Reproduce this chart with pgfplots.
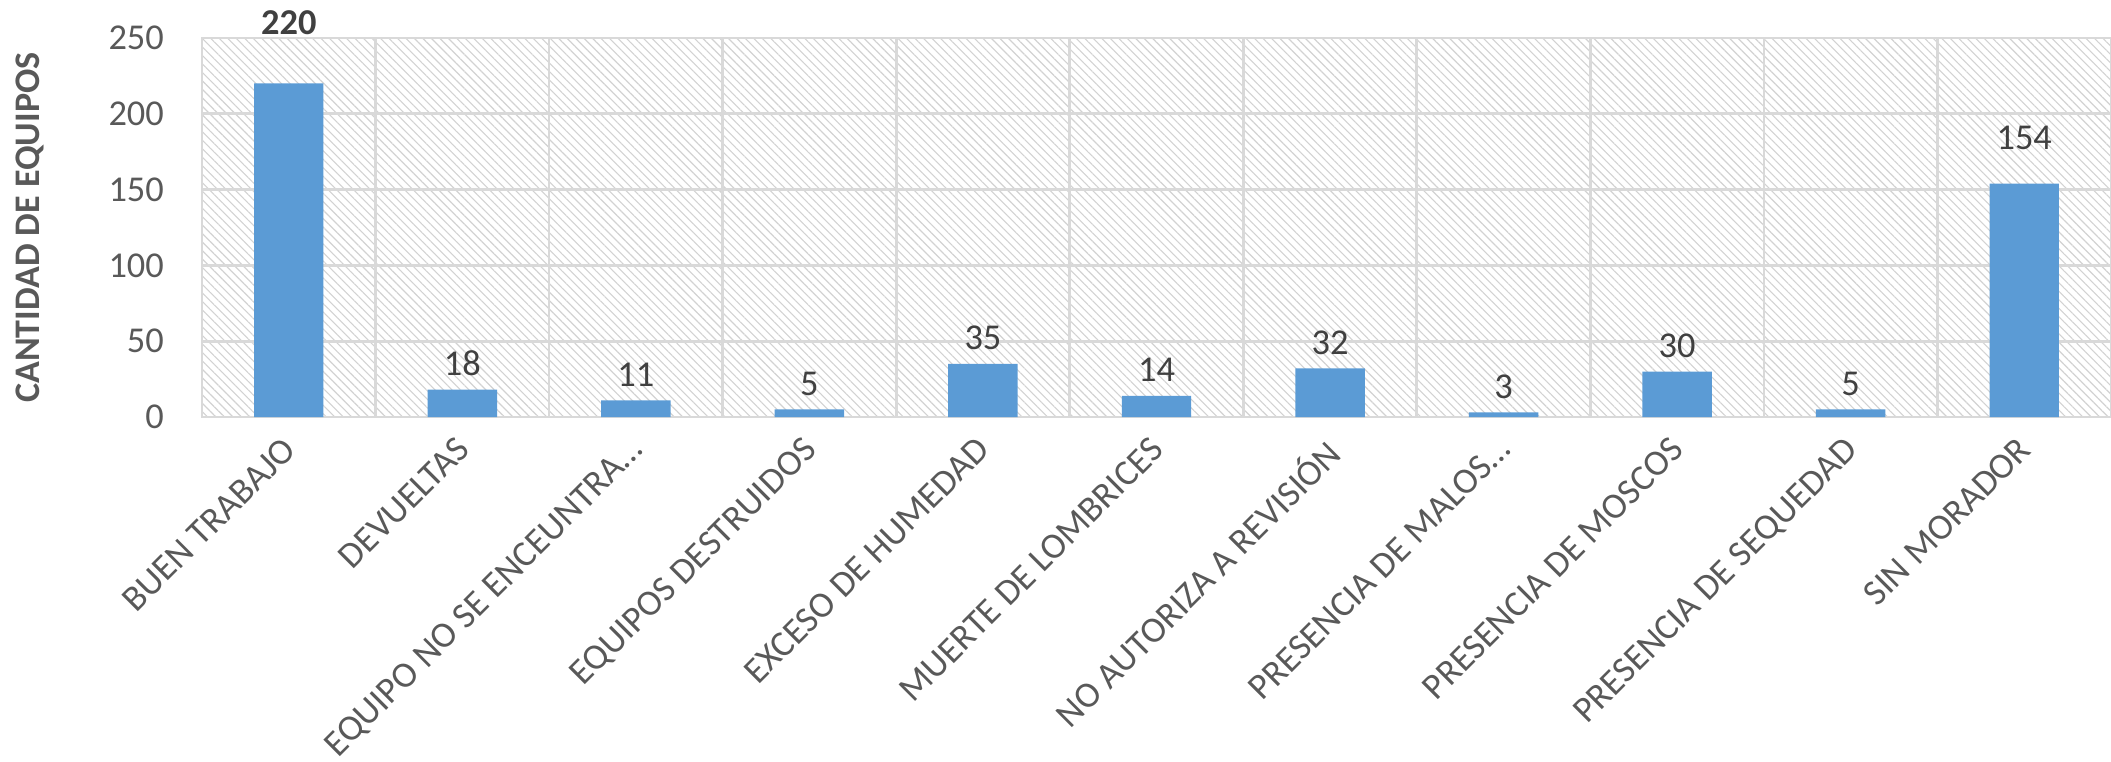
\documentclass[border=0pt]{standalone}
\usepackage{fontspec}
\setmainfont{Carlito}
\usepackage{pgfplots}
\usepackage{pgfplotstable}
\pgfplotsset{compat=1.18}
\usetikzlibrary{patterns.meta}
\definecolor{barblue}{HTML}{5B9BD5}
\definecolor{gridgray}{HTML}{D9D9D9}
\definecolor{txtgray}{HTML}{595959}
\definecolor{lblgray}{HTML}{404040}

\pgfplotstableread{
x y lab off
0 220 {\textbf{220}} 8.6
1 18 18 0
2 11 11 0
3 5 5 0
4 35 35 0
5 14 14 0
6 32 32 0
7 3 3 0
8 30 30 0
9 5 5 0
10 154 154 4.9
}\datatable

\begin{document}
\begin{tikzpicture}
\path[use as bounding box] (-50.5pt,-86pt) rectangle (477.25pt,104.25pt);
\begin{axis}[
  at={(0,0)}, anchor=south west,
  scale only axis, width=477.25pt, height=94.75pt,
  ymin=0, ymax=250, ytick={0,50,...,250},
  xmin=-0.5, xmax=10.5, xtick={0,...,10},
  xticklabels={BUEN TRABAJO, DEVUELTAS, EQUIPO NO SE ENCEUNTRA…, EQUIPOS DESTRUIDOS, EXCESO DE HUMEDAD, MUERTE DE LOMBRICES, NO AUTORIZA A REVISIÓN, PRESENCIA DE MALOS…, PRESENCIA DE MOSCOS, PRESENCIA DE SEQUEDAD, SIN MORADOR},
  minor x tick num=1,
  xminorgrids, ymajorgrids,
  major grid style={gridgray, line width=0.7pt},
  minor grid style={gridgray, line width=0.7pt},
  axis line style={gridgray, line width=0.7pt},
  tick style={draw=none},
  major tick length=0pt, minor tick length=0pt,
  axis background/.style={pattern={Lines[angle=-45,distance=1.5pt,line width=0.28pt]}, pattern color=gray!35},
  /pgf/number format/assume math mode=true,
  yticklabel style={font=\fontsize{9.1}{11}\selectfont, text=txtgray, xshift=-6pt},
  xticklabel style={font=\fontsize{9.1}{11}\selectfont, text=txtgray, inner sep=0pt, xshift=-2pt, yshift=-4.3pt, rotate=45, anchor=north east},
  ylabel={CANTIDAD DE EQUIPOS},
  ylabel style={font=\fontsize{9}{11}\selectfont\bfseries, text=txtgray, at={(axis description cs:-0.0901,0.5)}, anchor=center},
]
\addplot[ybar, bar width=0.4, fill=barblue, draw=none,
  point meta=explicit symbolic,
  visualization depends on={\thisrow{off} \as \off},
  nodes near coords,
  every node near coord/.append style={font=\fontsize{9.1}{11}\selectfont, text=lblgray, anchor=south, yshift=\off pt},
] table[x=x, y=y, meta=lab] \datatable;
\end{axis}
\end{tikzpicture}
\end{document}
